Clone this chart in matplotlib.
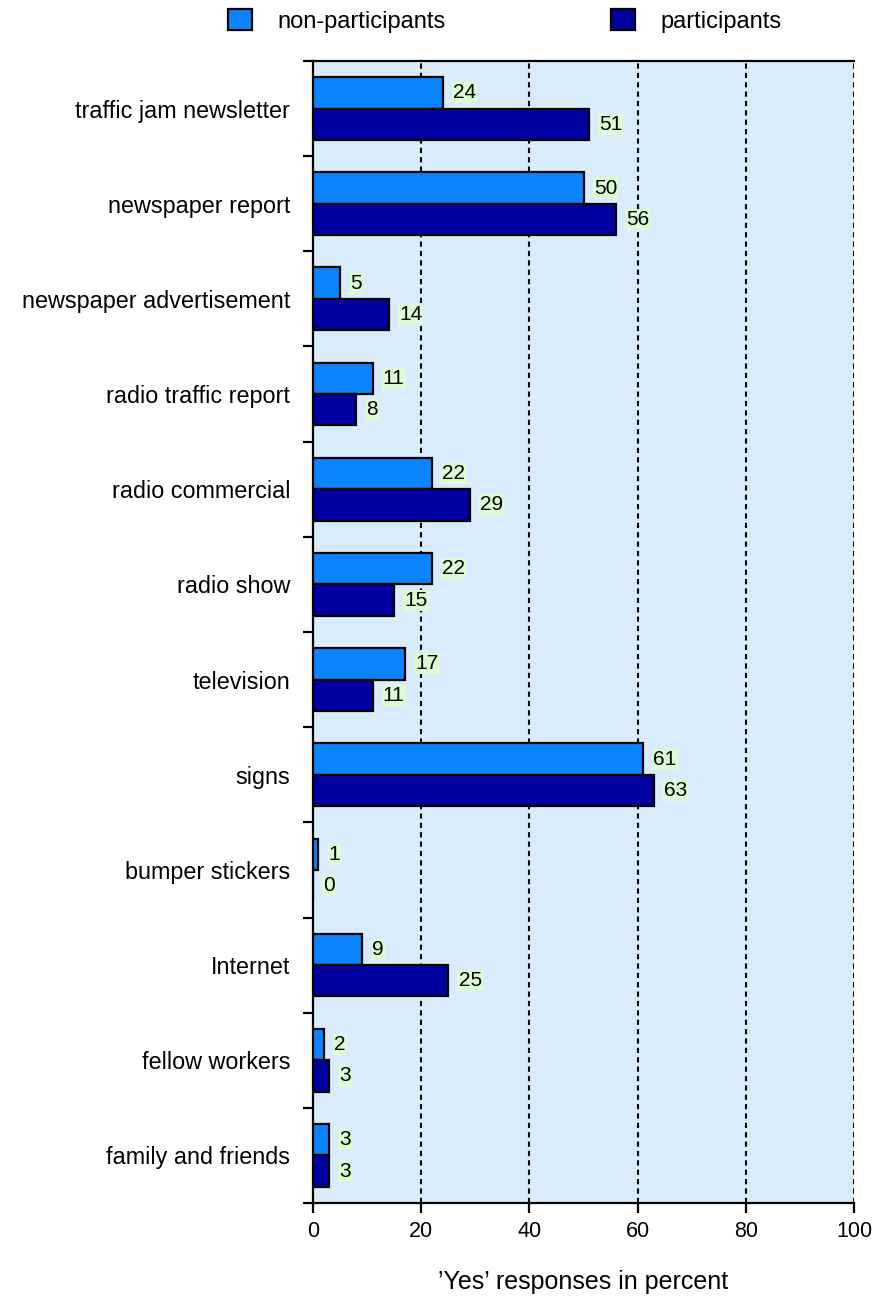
import matplotlib.pyplot as plt
import numpy as np

plt.rcParams['font.family'] = ['Liberation Sans', 'DejaVu Sans']

categories = ["traffic jam newsletter", "newspaper report", "newspaper advertisement",
              "radio traffic report", "radio commercial", "radio show", "television",
              "signs", "bumper stickers", "Internet", "fellow workers", "family and friends"]
non_participants = [24, 50, 5, 11, 22, 22, 17, 61, 1, 9, 2, 3]
participants = [51, 56, 14, 8, 29, 15, 11, 63, 0, 25, 3, 3]

light = "#0a84ff"
dark = "#0000a0"

fig = plt.figure(figsize=(8.76, 13), dpi=100)
ax = fig.add_axes([0.3573, 0.0746, 0.6176, 0.8785])
ax.set_facecolor("#d8ecfc")

y = np.arange(len(categories))
h = 0.33
b1 = ax.barh(y - h / 2, non_participants, height=h, color=light, edgecolor="black",
             linewidth=1.6, label="non-participants", zorder=3)
b2 = ax.barh(y + h / 2, participants, height=h, color=dark, edgecolor="black",
             linewidth=1.6, label="participants", zorder=3)

# value labels on a pale green patch
for bars, vals in ((b1, non_participants), (b2, participants)):
    for bar, v in zip(bars, vals):
        ax.text(v + 1.9, bar.get_y() + bar.get_height() / 2, str(v), va="center",
                ha="left", fontsize=15, zorder=4,
                bbox=dict(boxstyle="square,pad=0.05", fc="#dcfcd4", ec="none"))

ax.set_xlim(0, 100)
ax.set_ylim(len(categories) - 0.5, -0.5)
ax.set_xticks([0, 20, 40, 60, 80, 100])
ax.tick_params(axis="x", labelsize=15.5, length=7, width=1.6, direction="out", pad=6)

ax.set_yticks(y)
ax.set_yticklabels(categories, fontsize=16.8)
ax.tick_params(axis="y", which="major", length=0, pad=16.5)
ax.set_yticks(np.arange(-0.5, len(categories)), minor=True)
ax.tick_params(axis="y", which="minor", length=7, width=1.6, direction="out")

for xv in [20, 40, 60, 80, 100]:
    ax.axvline(xv, color="black", linestyle=(0, (2.5, 2)), linewidth=1.5, zorder=1)

ax.spines["right"].set_visible(False)
for side in ("left", "bottom", "top"):
    ax.spines[side].set_linewidth(1.6)

ax.set_xlabel("\u2019Yes\u2019 responses in percent", fontsize=18, labelpad=20)

fig.legend(handles=[b1, b2], loc="upper left", bbox_to_anchor=(228 / 876, 1 - 9 / 1300),
           ncol=2, frameon=False, fontsize=17, columnspacing=7.0, handlelength=1.0,
           handleheight=1.0, handletextpad=1.1, borderpad=0, borderaxespad=0)

fig.savefig("out.png", dpi=100)
